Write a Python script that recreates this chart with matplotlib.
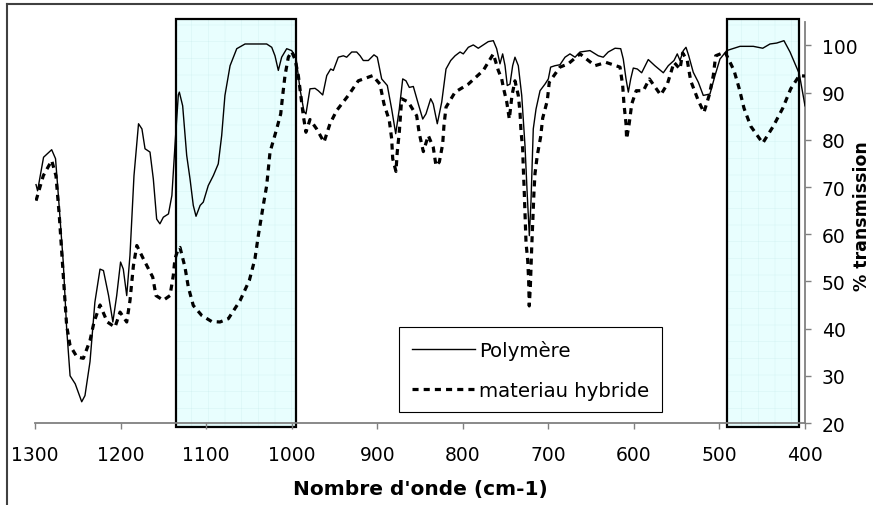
import matplotlib
matplotlib.use("Agg")
import matplotlib.pyplot as plt
from matplotlib.patches import Rectangle
from matplotlib.lines import Line2D

# ---- data ----
poly_x = [1298.8, 1297, 1290, 1280.5, 1276, 1272.7, 1267, 1263, 1259, 1253, 1245.4, 1241.6,
          1235.7, 1230, 1224, 1220, 1214, 1209, 1204.5, 1200, 1196.8, 1192.8, 1189, 1184.3,
          1179, 1175, 1171.4, 1165.6, 1161.7, 1157.8, 1154, 1150, 1144, 1140, 1136.4, 1132.5,
          1131.3, 1127.4, 1122.7, 1118.8, 1115, 1111.8, 1107, 1103.3, 1097.5, 1091.6, 1085.8,
          1081.8, 1078, 1072, 1064.2, 1054.5, 1029.2, 1023.3, 1019.5, 1015.6, 1011.7, 1005.8,
          1000, 995, 990.3, 985.6, 983.3, 978.6, 972.7, 968.9, 963.7, 959, 954.4, 951.3, 945.5,
          939.6, 935.7, 929.8, 924, 920, 916.3, 910.4, 903.8, 899.9, 894.8, 888.2, 883.1, 878.4,
          874.2, 870.2, 866.4, 862.5, 857.8, 852, 846.8, 843, 837.5, 834.5, 829.8, 824.6, 819.6,
          814.1, 809, 803.2, 799.4, 793.5, 787.7, 781.9, 776, 770.2, 764.3, 760.4, 756.5, 753.4,
          750.6, 748, 744.8, 741.7, 739, 735.1, 731.1, 727.3, 724.6, 722.2, 720.3, 717.6, 714.4,
          709.7, 703.9, 700, 697.3, 692.2, 686.4, 680.5, 674.7, 668.8, 663, 651.3, 641.6, 635.8,
          630, 622, 615.4, 612.4, 609.2, 606.5, 603.7, 600.7, 596, 590.9, 583.2, 575.5, 565.6,
          559.8, 553.1, 549.3, 546.1, 542.2, 539.1, 535.9, 530.6, 524.7, 518.9, 511.1, 505.2,
          499.4, 491.5, 476, 460.4, 449.4, 440.9, 433, 424.6, 417.5, 406.7, 400]
poly_y = [70.5, 69.2, 76.3, 77.9, 76.0, 68.2, 54.1, 40.0, 30.0, 28.3, 24.5, 25.8,
          33.0, 45.6, 52.6, 52.3, 47.0, 41.4, 47.0, 54.1, 52.6, 47.0, 55.5, 72.4,
          83.4, 82.3, 78.1, 77.4, 71.7, 63.2, 62.2, 63.6, 64.3, 68.2, 78.8, 89.5,
          90.1, 87.2, 76.7, 71.7, 66.1, 63.8, 66.1, 66.8, 70.3, 72.4, 74.9,
          80.9, 89.4, 95.7, 99.3, 100.3, 100.3, 99.6, 97.8, 94.7, 97.5, 99.3,
          98.9, 97.5, 90.8, 86.0, 85.5, 90.8, 90.9, 90.4, 89.5, 93.6, 95.0, 94.7, 97.5,
          97.8, 97.5, 98.6, 98.6, 97.8, 96.8, 96.8, 98.0, 97.5, 92.9, 91.5, 86.5, 81.3,
          86.5, 92.9, 92.5, 91.1, 91.3, 87.6, 84.4, 85.5, 88.7, 87.6, 83.4, 88.0, 95.0,
          96.8, 97.8, 98.6, 98.2, 99.6, 100.1, 99.4, 100.1, 100.8, 101.0, 99.3, 96.1, 98.2,
          95.7, 91.5, 91.8, 95.7, 97.5, 95.7, 89.4, 78.8, 68.2, 59.7, 66.8, 82.3, 86.5,
          90.4, 91.8, 92.9, 95.4, 95.7, 95.9, 97.5, 98.2, 97.5, 98.6, 98.9, 97.8, 97.5,
          98.6, 99.4, 99.3, 97.1, 92.9, 90.1, 92.9, 95.2, 95.0, 94.2, 97.0, 95.7, 94.2,
          95.7, 96.8, 98.2, 96.8, 98.9, 99.6, 97.8, 94.3, 92.2, 89.4, 89.7, 93.6,
          97.1, 98.9, 99.8, 99.8, 99.4, 100.3, 100.5, 101.0, 98.6, 94.0, 87.2]

hyb_x = [1298.8, 1290.3, 1280.5, 1275.5, 1271.6, 1268.8, 1266, 1263, 1259, 1251, 1243.5,
         1235.7, 1231, 1224, 1215.5, 1206.5, 1200.6, 1192.8, 1189, 1185, 1181, 1173.4,
         1162.4, 1158.6, 1150, 1142.2, 1138.4, 1136.4, 1132.5, 1130.5, 1124.7, 1120.8, 1115,
         1105.2, 1093.5, 1083.8, 1074, 1060.4, 1049.5, 1042.9, 1039, 1033.2, 1029.2, 1025.3,
         1017.5, 1012.8, 1010.5, 1007.8, 1003.9, 1000, 996, 992.2, 986.4, 983.3, 978.6,
         970.8, 962.2, 955.2, 947.4, 933.8, 922.1, 905.3, 896.8, 892.1, 885.9, 883.1, 881.9,
         878.1, 876.6, 874.2, 871.4, 863.7, 853.9, 850.8, 846.1, 840.3, 834.5, 831.3, 827.4,
         823.5, 822, 819.6, 809, 793.5, 776, 764.3, 758.5, 754.5, 752.6, 748.6, 745.6, 742.5,
         739, 735.1, 733.1, 732, 730, 729.3, 728.4, 726.1, 724.1, 723, 722.3, 721, 719.5,
         717.6, 716.8, 715.6, 712.9, 709, 706.6, 701.2, 698.9, 686.4, 676.7, 663, 645.5,
         632.6, 616.2, 613.1, 611.6, 609.2, 608.5, 605.5, 602.5, 597.3, 588.9, 581.9, 568.7,
         560.9, 553.1, 546.1, 543, 537.6, 533.6, 524.7, 518.1, 511.9, 507.2, 504.4, 493.5,
         483, 476.8, 471.3, 463.5, 449.4, 437, 426, 416.7, 406.7, 400]
hyb_y = [67.1, 72.4, 75.6, 72.4, 63.9, 56.2, 48.4, 40.6, 36.4, 34.0, 33.7,
         37.5, 41.4, 45.0, 41.4, 40.3, 43.5, 41.4, 45.9, 53.3, 57.6, 54.8,
         50.9, 47.0, 46.0, 47.0, 51.2, 54.8, 56.9, 57.2, 53.0, 48.8, 44.9,
         42.8, 41.5, 41.4, 42.1, 45.9, 50.2, 54.8, 59.7, 66.1, 70.3, 77.4,
         82.3, 85.5, 89.4, 93.6, 97.5, 98.7, 97.0, 93.6, 85.1, 81.6, 84.3,
         82.3, 79.5, 83.4, 86.2, 89.4, 92.5, 93.6, 91.8, 87.6, 84.1, 80.2, 76.0,
         73.3, 77.4, 81.6, 88.7, 88.0, 85.1, 81.3, 77.5, 80.9, 78.4, 74.5, 75.3,
         79.1, 83.0, 86.9, 90.1, 91.8, 94.7, 98.2, 94.7, 92.9, 91.1, 88.0, 84.4, 89.4,
         92.5, 89.4, 85.8, 82.0, 78.1, 74.2, 70.3, 58.3, 54.4, 50.2, 44.8, 49.0, 56.9,
         65.0, 68.9, 72.8, 76.7, 80.6, 84.6, 88.3, 92.2, 95.4, 96.1, 98.2, 95.7,
         96.4, 95.4, 91.5, 87.6, 83.4, 80.2, 83.4, 87.6, 90.4, 90.4, 92.9, 89.5,
         91.8, 96.4, 95.0, 98.4, 96.8, 92.5, 88.3, 85.8, 89.5, 93.6, 97.8, 98.6,
         94.7, 90.8, 86.7, 82.9, 79.3, 82.9, 86.7, 90.8, 93.6, 93.5]

highlight_ranges = [(1135, 995), (491.5, 407.5)]
x_ticks = [1300, 1200, 1100, 1000, 900, 800, 700, 600, 500, 400]
y_ticks = [20, 30, 40, 50, 60, 70, 80, 90, 100]
series_labels = ["Polymère", "materiau hybride"]
x_label = "Nombre d'onde (cm-1)"
y_label = "% transmission"

# ---- figure ----
W, H = 873, 506
fig = plt.figure(figsize=(W / 100, H / 100), dpi=100)
ax = fig.add_axes([35 / W, 1 - 424 / H, 770 / W, 401.2 / H])
ax.set_xlim(1300, 400)
ax.set_ylim(20, 105)

gray = "#808080"
for s in ("left", "top"):
    ax.spines[s].set_visible(False)
for s in ("right", "bottom"):
    ax.spines[s].set_color(gray)
    ax.spines[s].set_linewidth(1.3)

ax.yaxis.tick_right()
ax.set_xticks(x_ticks)
ax.set_yticks(y_ticks)
ax.tick_params(axis="x", direction="out", length=4.5, width=1, color=gray,
               labelsize=13.5, pad=11)
ax.tick_params(axis="y", direction="out", length=4, width=1, color=gray,
               labelsize=13.5, pad=8)

# highlight boxes
for x0, x1 in highlight_ranges:
    r = Rectangle((x0, 19.2), x1 - x0, 105.6 - 19.2, facecolor="#E8FEFE",
                  edgecolor="black", linewidth=1.6, clip_on=False, zorder=1,
                  hatch="+")
    r.set_hatch_linewidth(0.3)
    r._hatch_color = matplotlib.colors.to_rgba("#D2F2F2")
    ax.add_patch(r)

ax.plot(poly_x, poly_y, color="black", linewidth=1.0, label=series_labels[0], zorder=3)
ax.plot(hyb_x, hyb_y, color="black", linewidth=2.3, linestyle=(0, (1.9, 1.6)),
        label=series_labels[1], zorder=3)

leg = ax.legend(loc="upper left", bbox_to_anchor=(399 / W, 1 - 328 / H),
                bbox_transform=fig.transFigure, borderaxespad=0, fontsize=14.2,
                handlelength=3.2, handletextpad=0.2, labelspacing=1.05,
                borderpad=0.65, fancybox=False, framealpha=1, edgecolor="black")
leg.get_frame().set_linewidth(0.8)

fig.text(420 / W, 1 - 490 / H, x_label, fontsize=14.5, fontweight="bold",
         ha="center", va="center")
fig.text(862 / W, 1 - 216.5 / H, y_label, fontsize=12.5, fontweight="bold",
         ha="center", va="center", rotation=90)

# outer chart frame
fig.add_artist(Line2D([7 / W, 7 / W], [-0.1, 1 - 5 / H], transform=fig.transFigure,
                      color="#404040", linewidth=1.5))
fig.add_artist(Line2D([7 / W, 1.1], [1 - 5 / H, 1 - 5 / H], transform=fig.transFigure,
                      color="#404040", linewidth=1.5))

fig.savefig("out.png", dpi=100)
